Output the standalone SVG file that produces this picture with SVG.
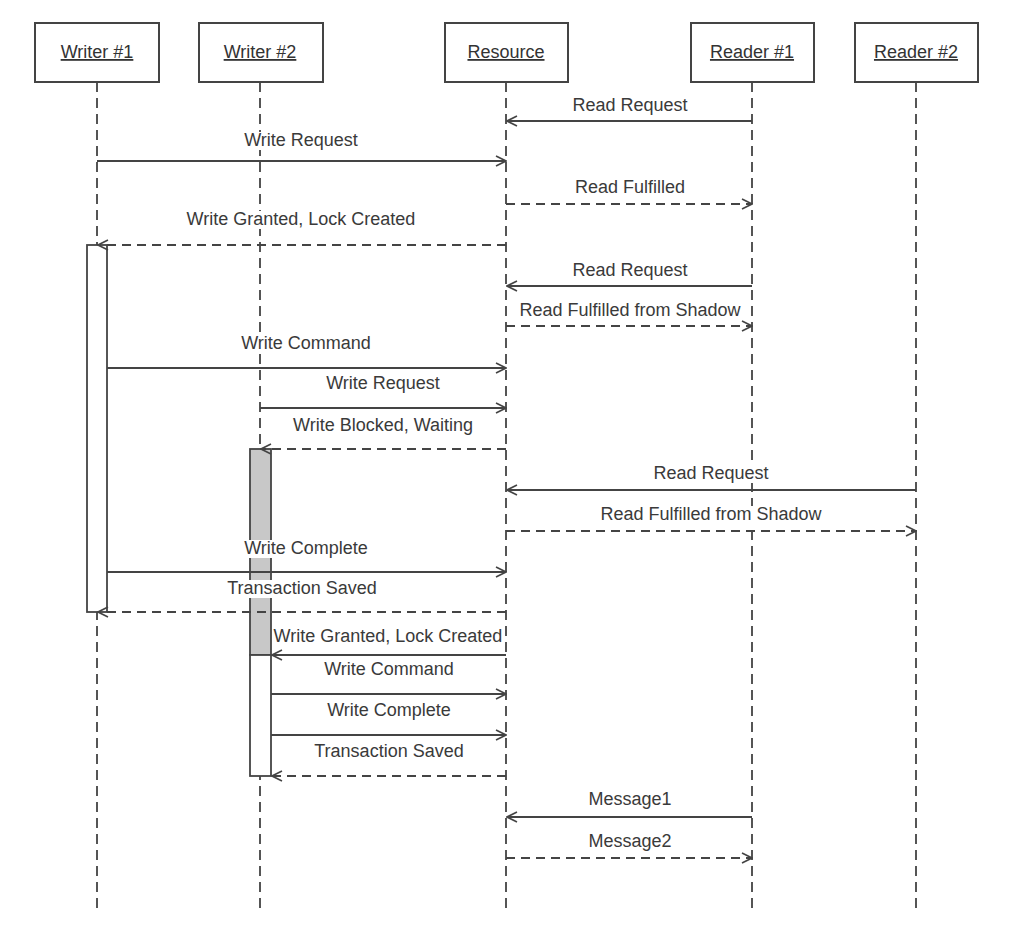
<svg xmlns="http://www.w3.org/2000/svg" width="1030" height="934" viewBox="0 0 1030 934">
<defs>
<style>
.box{fill:#fff;stroke:#444;stroke-width:2}
.hd{font-family:"Liberation Sans",Arial,sans-serif;font-size:18px;fill:#333;text-anchor:middle;text-decoration:underline}
.life{stroke:#555;stroke-width:2;stroke-dasharray:10 6;fill:none}
.msg{stroke:#444;stroke-width:1.8;fill:none}
.ret{stroke:#444;stroke-width:1.8;fill:none;stroke-dasharray:9 6}
.lbl{font-family:"Liberation Sans",Arial,sans-serif;font-size:18px;fill:#3a3a3a;text-anchor:middle}
.bg{fill:#fff;stroke:none}
.act{fill:#fff;stroke:#444;stroke-width:1.8}
.actg{fill:#c8c8c8;stroke:#444;stroke-width:1.8}
</style>
<marker id="ah" viewBox="0 0 12 12" refX="11" refY="6" markerWidth="12" markerHeight="12" markerUnits="userSpaceOnUse" orient="auto">
<path d="M1,1 L11,6 L1,11" fill="none" stroke="#444" stroke-width="1.6"/>
</marker>
</defs>
<rect width="1030" height="934" fill="#fff"/>
<g id="lifelines">
<line class="life" x1="97" y1="82" x2="97" y2="910"/>
<line class="life" x1="260" y1="82" x2="260" y2="910"/>
<line class="life" x1="506" y1="82" x2="506" y2="910"/>
<line class="life" x1="752" y1="82" x2="752" y2="910"/>
<line class="life" x1="916" y1="82" x2="916" y2="910"/>
</g>
<g id="writer1"><rect class="box" x="35" y="23" width="124" height="59"/><text class="hd" x="97" y="58">Writer #1</text></g>
<g id="writer2"><rect class="box" x="199" y="23" width="124" height="59"/><text class="hd" x="260" y="58">Writer #2</text></g>
<g id="resource"><rect class="box" x="445" y="23" width="123" height="59"/><text class="hd" x="506" y="58">Resource</text></g>
<g id="reader1"><rect class="box" x="691" y="23" width="123" height="59"/><text class="hd" x="752" y="58">Reader #1</text></g>
<g id="reader2"><rect class="box" x="855" y="23" width="123" height="59"/><text class="hd" x="916" y="58">Reader #2</text></g>
<g id="activations">
<rect class="act" x="87" y="245" width="20" height="367"/>
<rect class="actg" x="250" y="449" width="21" height="206"/>
<rect class="act" x="250" y="655" width="21" height="121"/>
</g>
<g id="labels">
<rect class="bg" x="572" y="97" width="116" height="18"/><text class="lbl" x="630" y="111">Read Request</text>
<rect class="bg" x="244" y="132" width="114" height="18"/><text class="lbl" x="301" y="146">Write Request</text>
<rect class="bg" x="574.5" y="179" width="111" height="18"/><text class="lbl" x="630" y="193">Read Fulfilled</text>
<rect class="bg" x="185.5" y="211" width="231" height="18"/><text class="lbl" x="301" y="225">Write Granted, Lock Created</text>
<rect class="bg" x="572" y="262" width="116" height="18"/><text class="lbl" x="630" y="276">Read Request</text>
<rect class="bg" x="518.5" y="302" width="223" height="18"/><text class="lbl" x="630" y="316">Read Fulfilled from Shadow</text>
<rect class="bg" x="240.5" y="335" width="131" height="18"/><text class="lbl" x="306" y="349">Write Command</text>
<rect class="bg" x="326" y="375" width="114" height="18"/><text class="lbl" x="383" y="389">Write Request</text>
<rect class="bg" x="292" y="417" width="182" height="18"/><text class="lbl" x="383" y="431">Write Blocked, Waiting</text>
<rect class="bg" x="653" y="465" width="116" height="18"/><text class="lbl" x="711" y="479">Read Request</text>
<rect class="bg" x="599.5" y="506" width="223" height="18"/><text class="lbl" x="711" y="520">Read Fulfilled from Shadow</text>
<rect class="bg" x="243.5" y="540" width="125" height="18"/><text class="lbl" x="306" y="554">Write Complete</text>
<rect class="bg" x="227" y="580" width="150" height="18"/><text class="lbl" x="302" y="594">Transaction Saved</text>
<rect class="bg" x="272.5" y="628" width="231" height="18"/><text class="lbl" x="388" y="642">Write Granted, Lock Created</text>
<rect class="bg" x="323.5" y="661" width="131" height="18"/><text class="lbl" x="389" y="675">Write Command</text>
<rect class="bg" x="326.5" y="702" width="125" height="18"/><text class="lbl" x="389" y="716">Write Complete</text>
<rect class="bg" x="314" y="743" width="150" height="18"/><text class="lbl" x="389" y="757">Transaction Saved</text>
<rect class="bg" x="588" y="791" width="84" height="18"/><text class="lbl" x="630" y="805">Message1</text>
<rect class="bg" x="588" y="833" width="84" height="18"/><text class="lbl" x="630" y="847">Message2</text>
</g>
<g id="connectors">
<line class="msg" x1="752" y1="121" x2="507" y2="121" marker-end="url(#ah)"/>
<line class="msg" x1="97" y1="161" x2="506" y2="161" marker-end="url(#ah)"/>
<line class="ret" x1="506" y1="204" x2="752" y2="204" marker-end="url(#ah)"/>
<line class="ret" x1="506" y1="245" x2="98" y2="245" marker-end="url(#ah)"/>
<line class="msg" x1="752" y1="286" x2="507" y2="286" marker-end="url(#ah)"/>
<line class="ret" x1="506" y1="326" x2="752" y2="326" marker-end="url(#ah)"/>
<line class="msg" x1="107" y1="368" x2="506" y2="368" marker-end="url(#ah)"/>
<line class="msg" x1="260" y1="408" x2="506" y2="408" marker-end="url(#ah)"/>
<line class="ret" x1="506" y1="449" x2="261" y2="449" marker-end="url(#ah)"/>
<line class="msg" x1="916" y1="490" x2="507" y2="490" marker-end="url(#ah)"/>
<line class="ret" x1="506" y1="531" x2="916" y2="531" marker-end="url(#ah)"/>
<line class="msg" x1="107" y1="572" x2="506" y2="572" marker-end="url(#ah)"/>
<line class="ret" x1="506" y1="612" x2="98" y2="612" marker-end="url(#ah)"/>
<line class="msg" x1="506" y1="655" x2="272" y2="655" marker-end="url(#ah)"/>
<line class="msg" x1="271" y1="694" x2="506" y2="694" marker-end="url(#ah)"/>
<line class="msg" x1="271" y1="735" x2="506" y2="735" marker-end="url(#ah)"/>
<line class="ret" x1="506" y1="776" x2="272" y2="776" marker-end="url(#ah)"/>
<line class="msg" x1="752" y1="817" x2="507" y2="817" marker-end="url(#ah)"/>
<line class="ret" x1="506" y1="858" x2="752" y2="858" marker-end="url(#ah)"/>
</g>
</svg>
